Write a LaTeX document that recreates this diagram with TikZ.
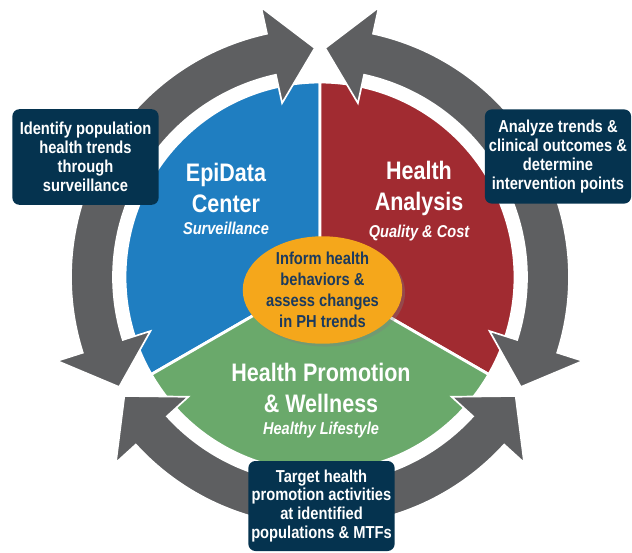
\documentclass[tikz,border=0pt]{standalone}
\usepackage{fontspec}
\setmainfont{Liberation Sans}[FakeStretch=0.85]
\usetikzlibrary{shapes.geometric,shadows,positioning}
\definecolor{epiblue}{HTML}{1F7EC1}
\definecolor{anared}{HTML}{A12B31}
\definecolor{promogreen}{HTML}{6AA96B}
\definecolor{informorange}{HTML}{F5A71B}
\definecolor{boxnavy}{HTML}{05334F}
\definecolor{cyclegrey}{HTML}{5E5F61}
\definecolor{informtext}{HTML}{1B3A5E}
\tikzset{
    every node/.style={align=center,},
    slice/.style={draw=white,line width=2pt,line join=round,},
    cyclearrow/.style={fill=cyclegrey,draw=white,line width=1.2pt,line join=miter,},
    stepnote/.style={fill=boxnavy,rounded corners=5pt,text=white,inner sep=1pt,
        font=\bfseries\fontsize{12.3}{13.5}\selectfont,minimum width=104pt,},
    title/.style={text=white,font=\bfseries\fontsize{18}{22}\selectfont,},
    subtitle/.style={text=white,font=\bfseries\itshape\fontsize{12.2}{13}\selectfont,inner sep=1pt,},
}
\begin{document}
\begin{tikzpicture}[x=0.025cm,y=0.025cm]
    \useasboundingbox (-320,-276) rectangle (312,277);

    % pie
    \filldraw[slice,fill=epiblue] (0,0) -- (90:195) arc[start angle=90,end angle=210,radius=195] -- cycle;
    \filldraw[slice,fill=anared] (0,0) -- (-30:195) arc[start angle=-30,end angle=90,radius=195] -- cycle;
    \filldraw[slice,fill=promogreen] (0,0) -- (210:195) arc[start angle=210,end angle=330,radius=195] -- cycle;

    % cycle arrows
    \foreach \a/\b in {91.3/208.7,211.3/328.7,331.3/448.7}
        \filldraw[cyclearrow] (\a:229) -- ({\a+11}:276) -- ({\a+11}:249)
            arc[start angle={\a+11},end angle={\b-11},radius=249]
            -- ({\b-11}:276) -- (\b:229) -- ({\b-11}:178) -- ({\b-11}:207)
            arc[start angle={\b-11},end angle={\a+11},radius=207]
            -- ({\a+11}:178) -- cycle;

    \node[title] (epidata) at (-94,89) {EpiData\\Center};
    \node[subtitle,below=2pt of epidata] (surveillance) {Surveillance};
    \node[title] (analysis) at (99,89) {Health\\Analysis};
    \node[subtitle,below=2pt of analysis] (quality) {Quality \& Cost};
    \node[title] (promotion) at (1,-111) {Health Promotion\\\& Wellness};
    \node[subtitle,below=2pt of promotion] (lifestyle) {Healthy Lifestyle};

    \node[ellipse,fill=informorange,text=informtext,minimum width=110pt,minimum height=68pt,inner sep=0pt,
        font=\bfseries\fontsize{12.3}{15}\selectfont,
        drop shadow={opacity=0.35,shadow xshift=2pt,shadow yshift=-2pt}] (inform) at (2.5,-13)
        {Inform health\\behaviors \&\\assess changes\\in PH trends};

    \node[stepnote,minimum height=68pt] (identify) at (-234.5,120) {Identify population\\health trends\\through\\surveillance};
    \node[stepnote,minimum height=67pt] (analyze) at (238,120.5) {Analyze trends \&\\clinical outcomes \&\\determine\\intervention points};
    \node[stepnote,minimum height=64pt] (target) at (1.5,-229) {Target health\\promotion activities\\at identified\\populations \& MTFs};
\end{tikzpicture}
\end{document}
